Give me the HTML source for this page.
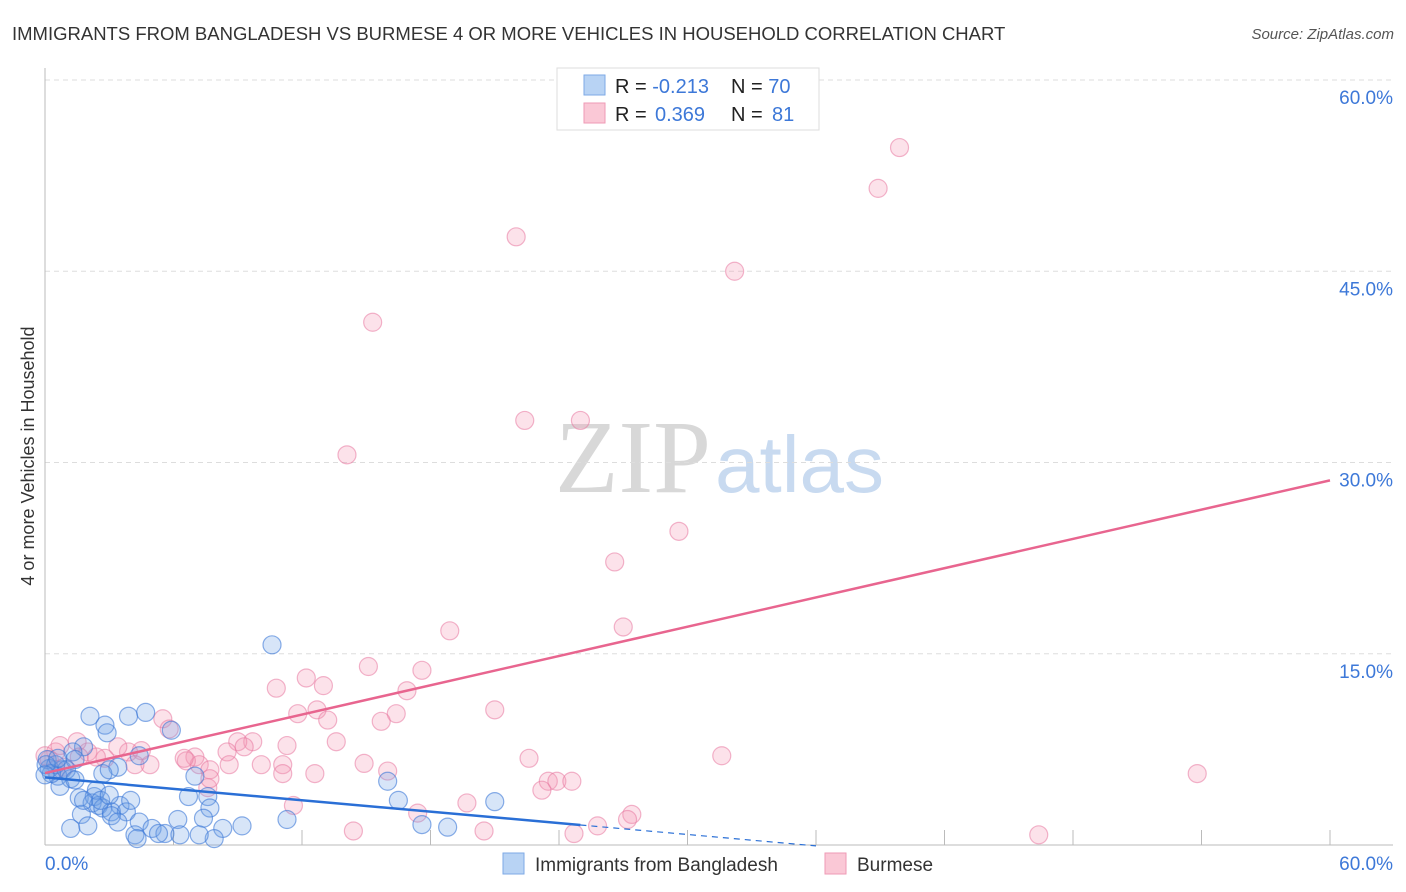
<!DOCTYPE html>
<html><head><meta charset="utf-8">
<style>
body{margin:0;background:#fff;font-family:"Liberation Sans",sans-serif;}
#wrap{position:relative;width:1406px;height:892px;overflow:hidden;}
</style></head>
<body>
<div id="wrap">
<svg id="svg" width="1406" height="892">
<text x="12" y="40" font-size="18.5" fill="#333">IMMIGRANTS FROM BANGLADESH VS BURMESE 4 OR MORE VEHICLES IN HOUSEHOLD CORRELATION CHART</text>
<text x="1394" y="39" font-size="15" fill="#555" font-style="italic" text-anchor="end">Source: ZipAtlas.com</text>
<text transform="translate(34,456) rotate(-90)" font-size="18" fill="#333" text-anchor="middle">4 or more Vehicles in Household</text>
<text x="555" y="492" font-size="104" fill="#ddd" font-family="Liberation Serif,serif"><tspan fill="#d8d8d8">ZIP</tspan><tspan fill="#c8daf0" font-family="Liberation Sans,sans-serif" font-size="80" dx="4">atlas</tspan></text>
<g id="grid"></g>
<g id="pts"></g>
<g id="lines"></g>
<g>
<rect x="557" y="68" width="262" height="62" fill="#fff" stroke="#ddd"/>
<rect x="584" y="75" width="21" height="20" fill="#b8d3f4" stroke="#7eaae6"/>
<rect x="584" y="103" width="21" height="20" fill="#fac8d6" stroke="#ef9ab5"/>
<text x="615" y="93" font-size="20" fill="#222">R = <tspan fill="#3d78d8">-0.213</tspan><tspan x="731">N = </tspan><tspan fill="#3d78d8">70</tspan></text>
<text x="615" y="121" font-size="20" fill="#222">R = <tspan fill="#3d78d8" x="655">0.369</tspan><tspan x="731">N = </tspan><tspan fill="#3d78d8" x="772">81</tspan></text>
</g>
<g>
<rect x="503" y="853" width="21" height="21" fill="#b8d3f4" stroke="#7eaae6"/>
<text x="535" y="871" font-size="19" fill="#333">Immigrants from Bangladesh</text>
<rect x="825" y="853" width="21" height="21" fill="#fac8d6" stroke="#ef9ab5"/>
<text x="857" y="871" font-size="19" fill="#333">Burmese</text>
</g>
</svg>
</div>
<script>
const yTicks=[15,30,45,60];
const yTickLabels=["15.0%","30.0%","45.0%","60.0%"];
const xTickVals=[6,12,18,24,30,36,42,48,54,60];
const pinkX=[39.9,38.9,22.0,32.2,15.3,22.4,25.0,14.1,29.6,26.6,27.0,18.9,15.1,17.6,12.2,10.8,13.0,16.9,21.0,12.7,11.8,16.4,15.7,13.2,5.5,5.8,13.6,9.7,11.3,9.0,9.3,31.6,22.6,14.9,16.0,12.6,8.5,7.0,7.2,11.1,10.1,8.6,7.7,6.6,4.9,3.9,4.5,2.8,3.4,2.0,1.5,0.5,0.2,0.5,0.9,1.6,2.4,4.2,23.5,23.9,24.6,23.2,7.6,53.8,11.6,17.4,19.7,20.5,27.4,27.2,25.8,24.7,46.4,14.4,6.5,7.7,0.7,0.0,11.1];
const pinkY=[54.7,51.5,47.7,45.0,41.0,33.3,33.3,30.6,24.6,22.2,17.1,16.8,14.0,13.7,13.1,12.3,12.5,12.1,10.6,10.6,10.3,10.3,9.7,9.8,9.9,9.1,8.1,8.1,7.8,8.1,7.7,7.0,6.8,6.4,5.8,5.6,7.3,6.9,6.3,6.3,6.3,6.3,5.9,6.6,6.3,7.3,7.4,6.8,7.7,7.3,8.1,7.3,6.7,5.9,6.1,6.9,6.9,6.3,5.0,5.0,5.0,4.3,4.5,5.6,3.1,2.5,3.3,1.1,2.4,2.0,1.5,0.9,0.8,1.1,6.8,5.2,7.8,7.0,5.6];
const blueX=[10.6,4.7,2.1,3.9,5.9,2.8,2.9,1.8,1.3,4.4,3.4,2.7,7.0,0.8,0.6,1.2,0.2,0.1,0.5,0.7,16.0,1.6,2.3,2.2,2.5,3.5,2.7,3.1,3.8,6.7,7.6,7.7,16.5,21.0,1.7,3.1,3.4,4.4,7.4,11.3,17.6,18.8,1.2,2.0,5.0,6.2,8.3,9.2,5.6,5.3,4.2,7.9,2.4,3.0,1.4,1.0,0.3,0.05,1.8,2.6,3.0,4.0,0.6,0.0,1.4,6.3,4.3,7.2];
const blueY=[15.7,10.4,10.1,10.1,9.0,9.4,8.8,7.7,7.3,7.0,6.1,5.6,5.4,5.9,5.4,5.2,6.0,6.7,6.3,4.6,5.0,3.7,3.8,3.3,3.1,3.1,2.9,2.6,2.6,3.8,3.8,2.9,3.5,3.4,2.4,2.3,1.8,1.8,2.1,2.0,1.6,1.4,1.3,1.5,1.3,2.0,1.3,1.5,0.9,0.9,0.8,0.5,4.3,5.9,6.7,5.9,5.6,6.3,3.5,3.5,3.9,3.5,6.8,5.5,5.1,0.8,0.5,0.8];
const pinkLine=[[0,5.64],[60,28.6]];
const blueLine=[[0,5.3],[25,1.57]];
const blueDash=[[25,1.57],[36,-0.07]];
const X0=45,X1=1330,Y0=845,Y60=80;
const sx=v=>X0+(X1-X0)*v/60;
const sy=v=>Y0-(Y0-Y60)*v/60;
const NS="http://www.w3.org/2000/svg";
function mk(tag,attrs,parent){const e=document.createElementNS(NS,tag);for(const k in attrs)e.setAttribute(k,attrs[k]);parent.appendChild(e);return e;}
const grid=document.getElementById('grid');
yTicks.forEach((t,i)=>{
  const l=mk('line',{x1:45,x2:1393,y1:sy(t),y2:sy(t),stroke:'#ddd','stroke-dasharray':'5,4'},grid);
  
  
  const tx=mk('text',{x:1393,y:sy(t)+24,'font-size':19,fill:'#3d78d8','text-anchor':'end'},grid);
  tx.textContent=yTickLabels[i];
  
  
});
let a=mk('line',{x1:45,x2:45,y1:68,y2:845,stroke:'#bbb'},grid);


a=mk('line',{x1:45,x2:1393,y1:845,y2:845,stroke:'#bbb'},grid);


xTickVals.forEach(t=>{
  const l=mk('line',{x1:sx(t),x2:sx(t),y1:830,y2:845,stroke:'#bbb'},grid);
  
  
});
let t0=mk('text',{x:45,y:870,'font-size':19,fill:'#3d78d8'},grid);t0.textContent='0.0%';


let t1=mk('text',{x:1393,y:870,'font-size':19,fill:'#3d78d8','text-anchor':'end'},grid);t1.textContent='60.0%';


const pts=document.getElementById('pts');
pinkX.forEach((x,i)=>{
  const c=mk('circle',{cx:sx(x),cy:sy(pinkY[i]),r:9,fill:'rgba(244,150,180,0.28)',stroke:'rgba(232,120,160,0.55)','stroke-width':1.2},pts);
  
  
});
blueX.forEach((x,i)=>{
  const c=mk('circle',{cx:sx(x),cy:sy(blueY[i]),r:9,fill:'rgba(110,160,230,0.28)',stroke:'rgba(60,120,215,0.6)','stroke-width':1.2},pts);
  
  
});
const lines=document.getElementById('lines');
let ln=mk('line',{x1:sx(pinkLine[0][0]),y1:sy(pinkLine[0][1]),x2:sx(pinkLine[1][0]),y2:sy(pinkLine[1][1]),stroke:'#e8658f','stroke-width':2.5},lines);


ln=mk('line',{x1:sx(blueLine[0][0]),y1:sy(blueLine[0][1]),x2:sx(blueLine[1][0]),y2:sy(blueLine[1][1]),stroke:'#2a6fd6','stroke-width':2.5},lines);


ln=mk('line',{x1:sx(blueDash[0][0]),y1:sy(blueDash[0][1]),x2:sx(blueDash[1][0]),y2:sy(blueDash[1][1]),stroke:'#2a6fd6','stroke-width':1.2,'stroke-dasharray':'6,5'},lines);


</script>
</body></html>
